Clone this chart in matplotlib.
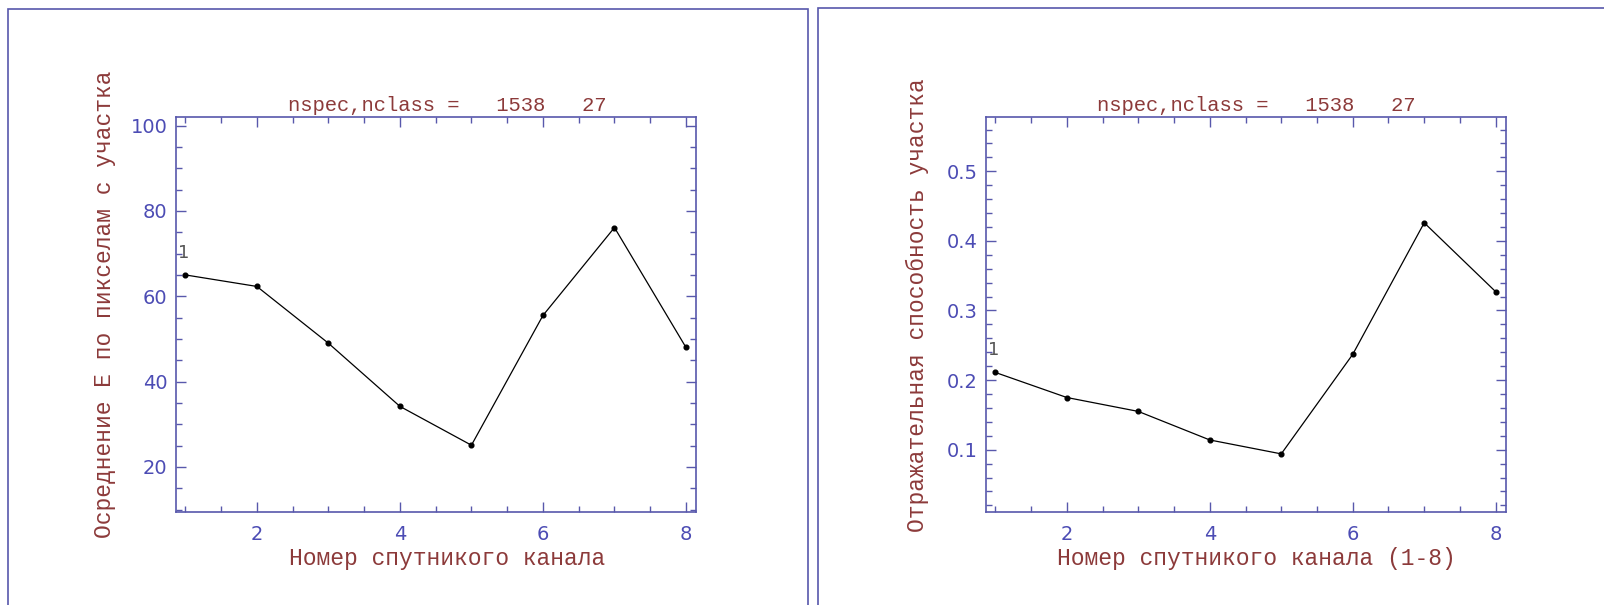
import matplotlib
matplotlib.use("Agg")
import matplotlib.pyplot as plt
from matplotlib.patches import Rectangle
from matplotlib.ticker import MultipleLocator

# Data
CHANNELS = [1, 2, 3, 4, 5, 6, 7, 8]
MEAN_E = [65.0, 62.3, 49.0, 34.2, 25.1, 55.5, 76.1, 48.0]
REFLECTANCE = [0.211, 0.175, 0.155, 0.114, 0.094, 0.237, 0.426, 0.327]
NSPEC = 1538
NCLASS = 27
CLASS_LABEL = "1"

TITLE = f"nspec,nclass =   {NSPEC}   {NCLASS}"
XLABELS = ["Номер спутникого канала", "Номер спутникого канала (1-8)"]
YLABELS = ["Осреднение Е по пикселам с участка", "Отражательная способность участка"]

AXIS_COLOR = "#5858ac"
TICK_COLOR = "#4c4cb4"
LABEL_COLOR = "#8c3a3a"
LABEL_FONT = "Liberation Mono"

W, H = 1604, 605
fig = plt.figure(figsize=(W / 100, H / 100), dpi=100, facecolor="white")

# panel frames
fig.add_artist(Rectangle((8 / W, -0.05), 800 / W, 1.05 - 8.5 / H, transform=fig.transFigure,
                         fill=False, edgecolor=AXIS_COLOR, linewidth=1.2))
fig.add_artist(Rectangle((817.5 / W, -0.05), 0.6, 1.05 - 7.5 / H, transform=fig.transFigure,
                         fill=False, edgecolor=AXIS_COLOR, linewidth=1.2))


def style_axes(ax, ymajor, yminor):
    ax.set_xlim(0.865, 8.14)
    ax.xaxis.set_major_locator(MultipleLocator(2))
    ax.xaxis.set_minor_locator(MultipleLocator(0.5))
    ax.yaxis.set_major_locator(MultipleLocator(ymajor))
    ax.yaxis.set_minor_locator(MultipleLocator(yminor))
    ax.tick_params(which="both", direction="in", top=True, right=True,
                   color=AXIS_COLOR, width=1.0)
    ax.tick_params(which="major", length=7.5, labelsize=14, labelcolor=TICK_COLOR)
    ax.tick_params(which="minor", length=4.5)
    ax.tick_params(axis="x", which="major", pad=9)
    ax.tick_params(axis="y", which="major", pad=6)
    for s in ax.spines.values():
        s.set_color(AXIS_COLOR)
        s.set_linewidth(1.2)


ax1 = fig.add_axes([175.7 / W, 93 / H, 520.3 / W, 395 / H])
ax2 = fig.add_axes([985.7 / W, 93 / H, 520.0 / W, 395 / H])

ax1.plot(CHANNELS, MEAN_E, color="black", linewidth=0.9, marker="o", markersize=3.4)
ax1.set_ylim(9.45, 102)
style_axes(ax1, 20, 5)

ax2.plot(CHANNELS, REFLECTANCE, color="black", linewidth=0.9, marker="o", markersize=3.4)
ax2.set_ylim(0.0105, 0.578)
style_axes(ax2, 0.1, 0.02)
ax2.yaxis.set_major_formatter(plt.FuncFormatter(lambda v, p: f"{v:.1f}"))

for ax, ys, xl, yl, ylx in [(ax1, MEAN_E, XLABELS[0], YLABELS[0], -0.136),
                            (ax2, REFLECTANCE, XLABELS[1], YLABELS[1], -0.132)]:
    ax.set_title(TITLE, x=0.521, y=1.0152, pad=0, fontsize=14.8,
                 family=LABEL_FONT, color=LABEL_COLOR)
    ax.set_xlabel(xl, fontsize=16.6, family=LABEL_FONT, color=LABEL_COLOR)
    ax.set_ylabel(yl, fontsize=16.5, family=LABEL_FONT, color=LABEL_COLOR)
    ax.xaxis.label.set_va("center")
    ax.yaxis.label.set_va("center")
    ax.xaxis.set_label_coords(0.521, -0.1165)
    ax.yaxis.set_label_coords(ylx, 0.525)
    ax.annotate(CLASS_LABEL, (CHANNELS[0], ys[0]), xytext=(-1.5, 16),
                textcoords="offset points", ha="center", va="center",
                fontsize=13, color="#555555")

fig.savefig("out.png", dpi=100, facecolor="white")
